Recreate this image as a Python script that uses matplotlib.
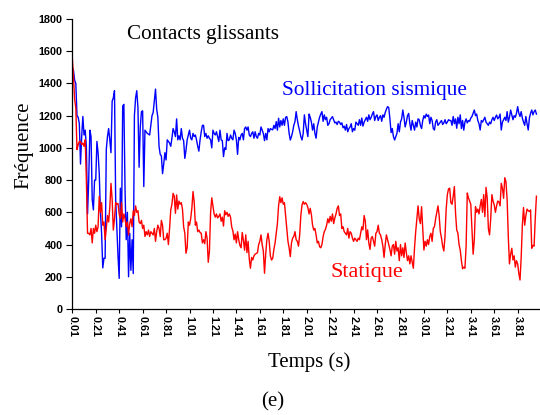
import numpy as np
import matplotlib
matplotlib.use("Agg")
import matplotlib.pyplot as plt

# ---- data ----
blue1 = [1500,1480,1420,1400,1200,1190,1150,900,1070,1195, 1080,1110,1010,590,800,1110,1070,680,615,800,
         800,1040,970,840,600,470,255,315,315,990, 1070,1120,1050,970,1290,1310,1355,680,510,330,
         190,750,510,1260,1270,740,430,600,200,470, 240,430,220,1200,1310,1355,1250,880,1130,1225,
         1230,760,1110,1100,1090,1085,1080,1140,1200,1220, 1290,1365,1240,1190,1010,960,950,840,900,970]
blue2 = [925,1050,1040,1030,1010,1060,1120,1100,1070,1180, 1050,1075,1050,1120,1060,1045,935,985,1050,1080,
         1110,1060,1050,1090,1070,1080,1050,1010,980,1050, 1100,1140,1140,1070,1090,1060,1075,1060,1050,1000,
         1110,1090,1080,1100,1070,1040,1110,1050,1045,946, 1000,990,1090,1045,1050,1080,1060,1050,1110,1090,
         1050,960,1065,1050,1080,1090,1050,1120,1130,1110, 1130,1080,1070,1090,1100,1060,1100,1070,1060,1090,
         1080]
blue3 = [1130,1110,1090,1045,1090,1050,1120,1100,1120,1115, 1112,1140,1120,1163,1110,1184,1130,1170,1140,1180,
         1140,1190,1194,1160,1090,1049,1070,1100,1140,1163, 1225,1175,1135,1105,1070,1049,1090,1205,1150,1110,
         1070,1210,1190,1160,1110,1150,1090,1060,1130,1160, 1190,1210,1225,1165,1205,1175,1190,1140,1150,1175,
         1185,1194,1175,1155,1160,1145,1165,1160,1145,1155, 1125,1135,1110,1145,1100,1120,1130,1150,1100,1120,
         1110]
blue4 = [1160,1150,1140,1175,1140,1185,1135,1160,1175,1190, 1165,1205,1175,1190,1210,1225,1170,1195,1205,1170,
         1190,1200,1165,1205,1190,1220,1240,1256,1250,1180, 1095,1120,1070,1049,1070,1090,1150,1100,1160,1180,
         1235,1190,1130,1160,1200,1214,1150,1110,1170,1140, 1110,1160,1130,1180,1175,1140,1120,1170,1200,1185,
         1210,1195,1204,1150,1190,1170,1120,1111,1160,1175, 1140,1150,1160,1170,1145,1155,1175,1150,1160,1175,
         1170]
blue5 = [1170,1140,1195,1150,1180,1122,1190,1150,1205,1120, 1170,1110,1160,1180,1155,1170,1165,1185,1195,1215,
         1235,1200,1210,1170,1150,1111,1170,1160,1175,1190, 1160,1150,1140,1160,1150,1175,1190,1170,1190,1204,
         1180,1190,1210,1111,1160,1175,1190,1170,1225,1160, 1190,1235,1205,1175,1200,1190,1215,1256,1215,1195,
         1225,1185,1160,1140,1195,1150,1111,1185,1215,1235, 1205,1225,1235,1210]

red1 = [1560,1440,1300,1250,990,1020,1040,1040,1020,1030, 1010,1050,800,470,470,460,500,410,500,470,
        520,480,510,700,600,660,520,540,430,500, 580,540,630,780,680,490,560,660,650,655,
        590,560,660,540,590,560,510,540,460,530, 560,510,610,580,640,600,610,540,530,550,
        500,520,450,480,460,490,450,480,470,460, 500,420,480,520,500,450,550,520,430,430]
red2 = [439,470,400,500,615,650,718,700,594,708, 620,670,650,660,620,511,470,346,380,540,
        520,560,625,729,665,520,540,480,490,475, 470,410,430,405,480,440,290,360,600,690,
        640,590,570,590,565,575,590,545,570,515, 610,585,600,575,590,570,510,485,430,465,
        410,480,430,395,380,475,425,365,460,350, 420,310,253,320,304,330,340,345,350,400,
        420]
red3 = [460,400,360,222,340,430,470,420,330,304, 315,370,410,470,530,640,697,660,690,650,
        660,580,500,420,380,325,410,440,450,480, 430,420,390,460,580,646,667,650,660,650,
        630,590,625,585,520,490,500,460,410,420, 387,380,400,450,480,495,520,560,535,575,
        545,590,530,565,590,625,640,580,590,500, 510,480,470,460,500,440,480,470,440,420,
        440]
red4 = [430,420,440,430,470,510,491,580,545,430, 491,410,370,440,450,420,390,470,480,520,
        470,460,430,390,320,400,460,430,400,370, 330,390,400,340,420,360,380,300,400,330,
        380,320,410,350,300,330,280,330,290,253, 380,480,560,640,560,530,635,500,366,420,
        390,430,400,450,470,420,500,510,560,600, 640,580,480,440,390,360,450,620,710,745,
        750]
red5 = [660,650,700,760,594,491,470,400,365,300, 250,260,253,387,720,690,670,650,500,340,
        430,635,600,620,590,640,680,600,710,573, 755,690,500,460,560,710,670,646,600,640,
        670,665,640,780,750,687,815,790,680,450, 280,340,377,304,330,260,300,280,220,180,
        320,522,630,520,580,620,610,605,615,377, 395,390,560,700]

sismique = blue1 + blue2 + blue3 + blue4 + blue5
statique = red1 + red2 + red3 + red4 + red5

tick_labels = ["0.01", "0.21", "0.41", "0.61", "0.81", "1.01", "1.21", "1.41", "1.61", "1.81",
               "2.01", "2.21", "2.41", "2.61", "2.81", "3.01", "3.21", "3.41", "3.61", "3.81"]
tick_step = 20
y_ticks = [0, 200, 400, 600, 800, 1000, 1200, 1400, 1600, 1800]

# ---- figure ----
W, H = 540, 415
fig = plt.figure(figsize=(W / 100, H / 100), dpi=100)
ax = fig.add_axes([72.3 / W, 1 - 309 / H, (539 - 72.3) / W, (309 - 19) / H])

xb = np.arange(len(sismique))
xr = np.arange(len(statique))
ax.plot(xb, sismique, color="#0000ff", lw=1.0)
ax.plot(xr, statique, color="#ff0000", lw=1.0)

ax.set_xlim(0, 398.2)
ax.set_ylim(0, 1800)
ax.set_xticks(np.arange(len(tick_labels)) * tick_step)
ax.set_xticklabels(tick_labels, rotation=-90, fontfamily="Liberation Sans",
                   fontweight="bold", fontsize=7.8)
ax.set_yticks(y_ticks)
ax.set_yticklabels([str(v) for v in y_ticks], fontfamily="Liberation Sans",
                   fontweight="bold", fontsize=7.8)
ax.tick_params(axis="x", direction="out", length=3, width=0.8, pad=2)
ax.tick_params(axis="y", direction="out", length=4, width=0.8, pad=3)
for s in ("top", "right"):
    ax.spines[s].set_visible(False)
for s in ("left", "bottom"):
    ax.spines[s].set_linewidth(0.9)

serif = "Liberation Serif"
fig.text(23.5 / W, 1 - 145 / H, "Fréquence", rotation=90, ha="center", va="center",
         fontfamily=serif, fontsize=15)
fig.text(309 / W, 1 - 362 / H, "Temps (s)", ha="center", va="center",
         fontfamily=serif, fontsize=15)
fig.text(272.5 / W, 1 - 402 / H, "(e)", ha="center", va="center",
         fontfamily=serif, fontsize=15)
fig.text(127 / W, 1 - 34 / H, "Contacts glissants", ha="left", va="center",
         fontfamily=serif, fontsize=15.2, color="black")
fig.text(282 / W, 1 - 90 / H, "Sollicitation sismique", ha="left", va="center",
         fontfamily=serif, fontsize=15.3, color="#0000ff")
fig.text(330 / W, 1 - 272 / H, "Statique", ha="left", va="center",
         fontfamily=serif, fontsize=16, color="#ff0000")

fig.savefig("out.png", dpi=100)
